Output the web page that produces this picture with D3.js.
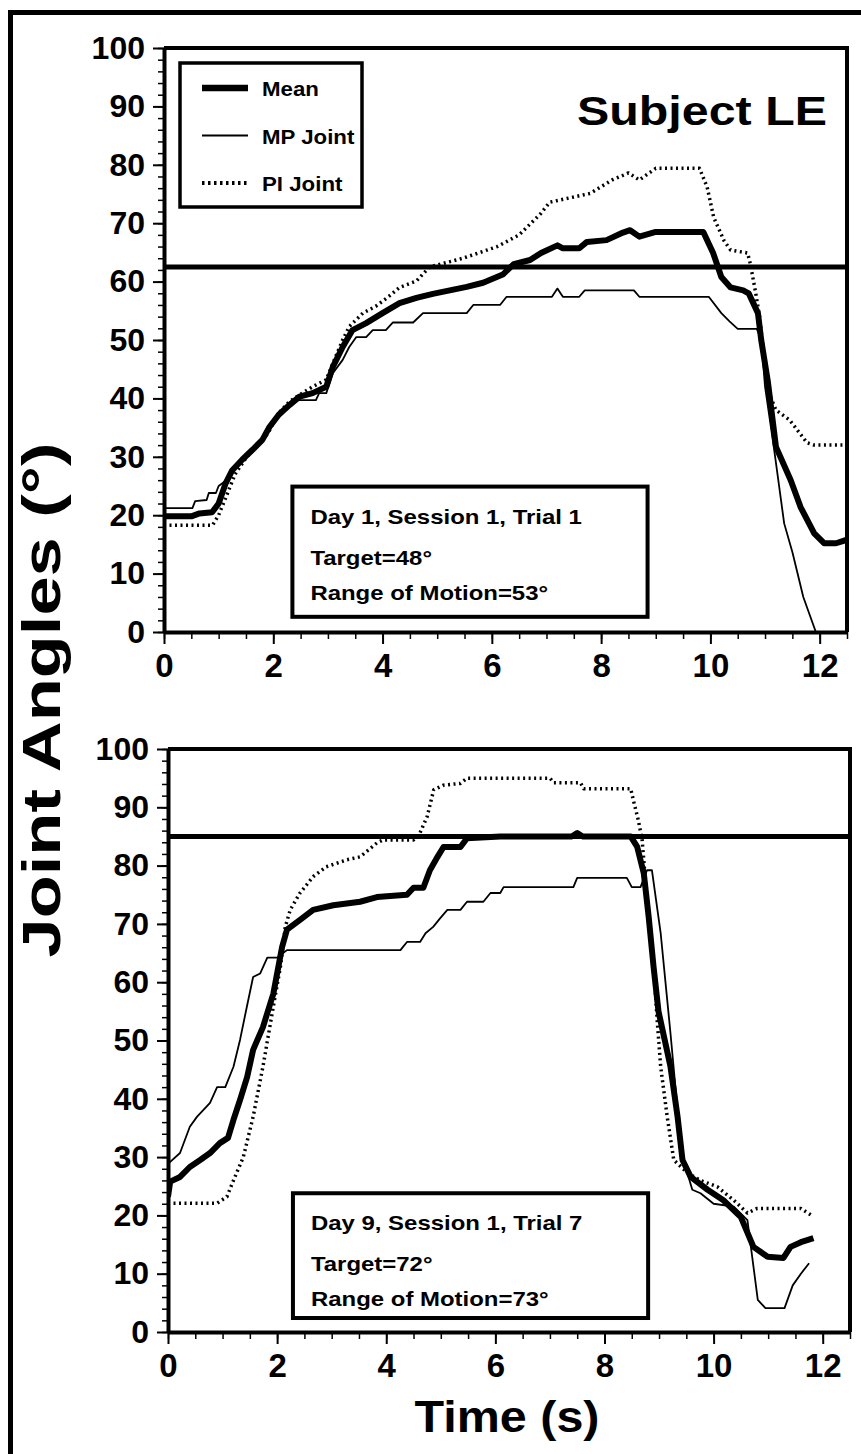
<!DOCTYPE html>
<html>
<head>
<meta charset="utf-8">
<script src="https://cdn.jsdelivr.net/npm/d3@7"></script>
<style>
  body { margin: 0; background: #fff; }
  svg text { font-family: "Liberation Sans", Arial, Helvetica, sans-serif; font-weight: bold; fill: #000; }
</style>
</head>
<body>
<svg id="chart" width="861" height="1454"></svg>
<script>
// ---- data (time in s, joint angle in degrees) ----
var xMajor = [0, 2, 4, 6, 8, 10, 12];
var xMinor = d3.range(0, 12.51, 0.5);
var yMajor = [0, 10, 20, 30, 40, 50, 60, 70, 80, 90, 100];
var yMinor = d3.range(0, 100.1, 2);

// panel 1 : Day 1
var topMean = [[0,19.8],[0.5,19.8],[0.65,20.3],[0.88,20.5],[1.0,22],[1.13,25.5],[1.25,27.7],[1.43,29.5],[1.62,31.2],[1.8,32.9],[1.93,35.1],[2.1,37.2],[2.3,38.9],[2.48,40.3],[2.72,40.9],[2.97,42],[3.09,45.4],[3.27,48.8],[3.45,51.7],[3.7,52.9],[4.0,54.6],[4.31,56.3],[4.62,57.2],[4.92,57.9],[5.23,58.5],[5.54,59.1],[5.84,59.8],[6.2,61.2],[6.4,63],[6.7,63.7],[6.9,64.9],[7.2,66.2],[7.3,65.7],[7.6,65.7],[7.74,66.8],[8.1,67.1],[8.4,68.4],[8.53,68.8],[8.7,67.7],[9.0,68.5],[9.87,68.5],[10.05,64.9],[10.2,60.8],[10.37,59],[10.6,58.5],[10.7,58],[10.87,54.6],[10.93,50],[11.05,43],[11.2,31.7],[11.47,26],[11.65,21.4],[11.9,16.9],[12.08,15.2],[12.3,15.2],[12.5,15.8]];
var topMP = [[0,21.2],[0.52,21.2],[0.57,22.4],[0.78,22.6],[0.82,23.8],[0.95,23.8],[1.0,25],[1.13,25.9],[1.25,27.7],[1.43,29.3],[1.62,31],[1.8,32.5],[1.93,35],[2.1,37],[2.3,38.7],[2.45,39.7],[2.78,39.7],[2.84,40.9],[2.97,40.9],[3.09,44.3],[3.27,46.6],[3.39,48.8],[3.52,50.5],[3.7,50.5],[3.82,51.7],[4.06,51.7],[4.19,53],[4.56,53],[4.74,54.6],[5.54,54.6],[5.66,56],[6.15,56],[6.27,57.4],[7.1,57.4],[7.2,58.8],[7.3,57.4],[7.6,57.4],[7.7,58.5],[8.6,58.5],[8.7,57.4],[9.97,57.4],[10.2,54.6],[10.35,53.2],[10.5,51.9],[10.85,51.9],[10.93,50],[11.0,42],[11.16,31.7],[11.35,18.6],[11.5,13.7],[11.7,6],[11.93,0]];
var topPI = [[0,18.3],[0.89,18.3],[1.0,20],[1.13,23],[1.3,27],[1.5,29.8],[1.7,31.8],[1.9,34],[2.1,37.5],[2.3,39.5],[2.48,40.6],[2.72,42],[2.97,43.2],[3.09,46],[3.27,50],[3.39,52.3],[3.64,54.6],[3.88,55.8],[4.12,57.5],[4.31,59],[4.62,60.1],[4.86,62.5],[5.47,64],[6.1,66],[6.5,68],[6.9,71.7],[7.06,73.6],[7.8,75.1],[8.2,77.4],[8.5,78.6],[8.7,77.4],[9.0,79.4],[9.8,79.4],[9.94,76.2],[10.06,71],[10.25,67],[10.37,65.4],[10.68,64.9],[10.73,63.1],[10.83,58],[10.9,54],[11.05,41.4],[11.2,38],[11.45,36.3],[11.77,32.4],[11.9,32],[12.5,32]];
var topTarget = 62.5;
var topNotes = ["Day 1, Session 1, Trial 1", "Target=48°", "Range of Motion=53°"];

// panel 2 : Day 9
var botMean = [[0,23.2],[0.04,25.8],[0.22,26.6],[0.4,28.3],[0.59,29.5],[0.77,30.7],[0.95,32.4],[1.1,33.3],[1.2,36.4],[1.32,39.8],[1.45,43.7],[1.56,48.4],[1.74,52.3],[1.93,58],[2.09,66],[2.18,69],[2.42,70.7],[2.66,72.4],[3.03,73.2],[3.52,73.8],[3.83,74.6],[4.38,75],[4.5,76.2],[4.68,76.2],[4.8,79.2],[4.94,81.5],[5.05,83.2],[5.36,83.2],[5.48,84.7],[6.09,85],[7.4,85],[7.5,85.6],[7.6,85],[8.48,85],[8.6,83.2],[8.72,78.7],[8.81,71.2],[8.9,62.6],[8.99,55],[9.21,45.5],[9.34,36.9],[9.43,29.5],[9.58,26.6],[9.89,24.4],[10.18,22.6],[10.5,19.7],[10.73,14.6],[10.99,12.9],[11.28,12.7],[11.41,14.6],[11.6,15.4],[11.83,16.1]];
var botMP = [[0,26],[0.02,29],[0.22,30.7],[0.4,35.2],[0.53,36.9],[0.77,39.3],[0.9,42],[1.05,42],[1.2,45.5],[1.32,50.1],[1.45,56],[1.56,60.9],[1.69,61.5],[1.82,64.2],[2.0,64.2],[2.18,65.5],[4.26,65.5],[4.38,66.9],[4.62,66.9],[4.72,68.4],[4.86,69.5],[4.99,71],[5.12,72.4],[5.36,72.4],[5.48,73.8],[5.78,73.8],[5.91,75.3],[6.09,75.3],[6.15,76.3],[7.43,76.3],[7.5,77.9],[8.41,77.9],[8.5,76.3],[8.66,76.3],[8.78,79.2],[8.87,79.2],[9.03,68.4],[9.21,51.2],[9.34,38],[9.43,30],[9.61,24.4],[9.76,23.8],[10.0,22],[10.37,21.5],[10.62,19.2],[10.81,5.5],[10.95,4.1],[11.3,4.1],[11.45,8],[11.6,10],[11.75,11.8]];
var botPI = [[0,22.1],[0.9,22.1],[1.08,23.2],[1.2,26],[1.38,30],[1.56,36.9],[1.74,45.5],[1.93,55.8],[2.06,62.6],[2.15,69.5],[2.24,72.4],[2.42,75.3],[2.66,78.1],[2.9,79.8],[3.28,81],[3.52,81.5],[3.83,83.9],[3.94,84.4],[4.5,84.4],[4.6,85.2],[4.75,88.4],[4.87,93],[5.05,93.8],[5.36,94.1],[5.48,95],[7.0,95],[7.07,94.2],[7.56,94.2],[7.62,93.2],[8.48,93.2],[8.53,91.2],[8.62,87.8],[8.69,84.4],[8.78,74],[8.9,62.6],[8.97,53],[9.03,45.5],[9.15,36.9],[9.27,29.5],[9.52,27.3],[9.76,26],[10.07,24.9],[10.37,22.6],[10.62,20.4],[10.8,21.2],[11.6,21.2],[11.78,20.1]];
var botTarget = 85;
var botNotes = ["Day 9, Session 1, Trial 7", "Target=72°", "Range of Motion=73°"];

var legendNames = ["Mean", "MP Joint", "PI Joint"];

var svg = d3.select('#chart');

// outer frame (left + top edges only are in view)
svg.append('path')
    .attr('d', 'M10.5,1454V12.5H861')
    .attr('fill', 'none')
    .attr('stroke', '#000')
    .attr('stroke-width', 5);

var styles = {
    mean: { w: 6, dash: null },
    mp:   { w: 1.8, dash: null },
    pi:   { w: 3.5, dash: '2,3.5' }
};

// stretch bold text a little wider, like the scanned figure
function widen(sel, k) {
    sel.each(function() {
        var w = this.getComputedTextLength();
        d3.select(this).attr('textLength', w * k).attr('lengthAdjust', 'spacingAndGlyphs');
    });
}

function drawPanel(p) {
    var x = d3.scaleLinear().domain([0, 12.5]).range([p.left, p.right]);
    var y = d3.scaleLinear().domain([0, 100]).range([p.bottom, p.top]);
    var g = svg.append('g');

    var clipId = 'clip' + p.id;
    g.append('clipPath').attr('id', clipId)
        .append('rect')
        .attr('x', p.left).attr('y', p.top)
        .attr('width', p.right - p.left).attr('height', p.bottom - p.top);

    // minor ticks
    g.append('g')
        .attr('transform', 'translate(0,' + p.bottom + ')')
        .call(d3.axisBottom(x).tickValues(xMinor).tickSize(7).tickFormat(''))
        .call(function(s) { s.select('.domain').remove(); s.selectAll('line').attr('stroke-width', 1.5); });
    g.append('g')
        .attr('transform', 'translate(' + p.left + ',0)')
        .call(d3.axisLeft(y).tickValues(yMinor).tickSize(6).tickFormat(''))
        .call(function(s) { s.select('.domain').remove(); s.selectAll('line').attr('stroke-width', 1.5); });

    // major ticks + labels
    var xa = g.append('g')
        .attr('transform', 'translate(0,' + p.bottom + ')')
        .call(d3.axisBottom(x).tickValues(xMajor).tickSize(12).tickSizeOuter(0).tickPadding(10));
    xa.select('.domain').attr('stroke-width', 4);
    xa.selectAll('.tick line').attr('stroke-width', 2);
    xa.selectAll('.tick text').attr('font-size', 33).attr('dy', '0.71em');

    var ya = g.append('g')
        .attr('transform', 'translate(' + p.left + ',0)')
        .call(d3.axisLeft(y).tickValues(yMajor).tickSize(11).tickSizeOuter(0).tickPadding(8));
    ya.select('.domain').attr('stroke-width', 4);
    ya.selectAll('.tick line').attr('stroke-width', 2);
    ya.selectAll('.tick text').attr('font-size', 32);
    g.selectAll('.tick text').attr('font-family', null);

    // top and right border
    g.append('path')
        .attr('d', 'M' + p.left + ',' + p.top + 'H' + p.right + 'V' + p.bottom)
        .attr('fill', 'none').attr('stroke', '#000').attr('stroke-width', 4);

    // target line
    g.append('line')
        .attr('x1', x(0)).attr('x2', x(12.5))
        .attr('y1', y(p.target)).attr('y2', y(p.target))
        .attr('stroke', '#000').attr('stroke-width', 5);

    var line = d3.line().x(function(d) { return x(d[0]); }).y(function(d) { return y(d[1]); });
    var series = [[p.pi, styles.pi], [p.mp, styles.mp], [p.mean, styles.mean]];
    g.append('g').attr('clip-path', 'url(#' + clipId + ')')
        .selectAll('path')
        .data(series)
        .enter()
        .append('path')
        .attr('d', function(d) { return line(d[0]); })
        .attr('fill', 'none')
        .attr('stroke', '#000')
        .attr('stroke-width', function(d) { return d[1].w; })
        .attr('stroke-dasharray', function(d) { return d[1].dash; })
        .attr('stroke-linejoin', 'round');

    // note box
    var bx = x(p.boxT[0]), by = y(p.boxV[1]);
    var bw = x(p.boxT[1]) - bx, bh = y(p.boxV[0]) - by;
    g.append('rect')
        .attr('x', bx).attr('y', by).attr('width', bw).attr('height', bh)
        .attr('fill', '#fff').attr('stroke', '#000').attr('stroke-width', 4);
    g.selectAll('.note')
        .data(p.notes)
        .enter()
        .append('text')
        .attr('class', 'note')
        .attr('x', bx + 18)
        .attr('y', function(d, i) { return by + [37, 78, 113][i]; })
        .attr('font-size', 21)
        .text(function(d) { return d; })
        .call(widen, 1.14);

    return { x: x, y: y };
}

drawPanel({ id: 1, left: 164, right: 847, top: 48, bottom: 632,
    mean: topMean, mp: topMP, pi: topPI, target: topTarget, notes: topNotes,
    boxT: [2.35, 8.85], boxV: [2.6, 24.9] });
drawPanel({ id: 2, left: 168, right: 850, top: 749, bottom: 1332,
    mean: botMean, mp: botMP, pi: botPI, target: botTarget, notes: botNotes,
    boxT: [2.29, 8.8], boxV: [2.4, 23.8] });

// legend (top panel)
var lg = svg.append('g');
lg.append('rect')
    .attr('x', 180).attr('y', 63).attr('width', 182).attr('height', 144)
    .attr('fill', '#fff').attr('stroke', '#000').attr('stroke-width', 3.5);
var legendStyle = [{ w: 6.5, dash: null }, styles.mp, { w: 4, dash: '2.5,3.5' }];
legendNames.forEach(function(name, i) {
    var cy = 88 + i * 47.5;
    lg.append('line')
        .attr('x1', 202).attr('x2', 248).attr('y1', cy).attr('y2', cy)
        .attr('stroke', '#000')
        .attr('stroke-width', legendStyle[i].w)
        .attr('stroke-dasharray', legendStyle[i].dash);
    lg.append('text')
        .attr('x', 262).attr('y', cy + 8)
        .attr('font-size', 21)
        .text(name)
        .call(widen, 1.06);
});

svg.append('text')
    .attr('x', 827).attr('y', 125)
    .attr('text-anchor', 'end')
    .attr('font-size', 40)
    .attr('textLength', 250)
    .attr('lengthAdjust', 'spacingAndGlyphs')
    .text('Subject LE');

// axis titles
svg.append('text')
    .attr('transform', 'translate(60,700) rotate(-90)')
    .attr('text-anchor', 'middle')
    .attr('font-size', 54)
    .attr('textLength', 515)
    .attr('lengthAdjust', 'spacingAndGlyphs')
    .text('Joint Angles (°)');

svg.append('text')
    .attr('x', 507).attr('y', 1432)
    .attr('text-anchor', 'middle')
    .attr('font-size', 44)
    .attr('textLength', 185)
    .attr('lengthAdjust', 'spacingAndGlyphs')
    .text('Time (s)');
</script>
</body>
</html>
